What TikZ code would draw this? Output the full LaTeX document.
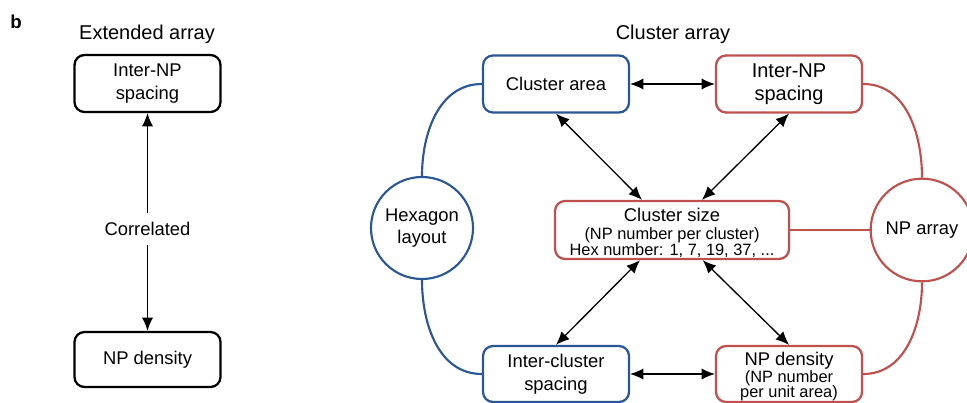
\documentclass[tikz,border=0pt]{standalone}
\usepackage{fontspec}
\setmainfont{Liberation Sans}
\usetikzlibrary{arrows.meta}
\definecolor{cblue}{RGB}{43,87,151}
\definecolor{cred}{RGB}{192,80,77}
\begin{document}
\begin{tikzpicture}[x=0.75pt,y=-0.75pt,
  fmain/.style={font=\fontsize{13.8}{16.9}\selectfont},
  fsmall/.style={font=\fontsize{12.3}{13}\selectfont},
  ftitle/.style={font=\fontsize{15}{18}\selectfont},
  box/.style={draw, rounded corners=7.5pt, line width=1.7pt, minimum width=109.5pt, minimum height=42.75pt, align=center, inner sep=0pt, fmain},
  bbox/.style={box, draw=black},
  blbox/.style={box, draw=cblue},
  rbox/.style={box, draw=cred},
  circ/.style={draw, circle, line width=1.6pt, align=center, inner sep=0pt, fmain},
  arr/.style={{Latex[length=10pt,width=8.5pt]}-{Latex[length=10pt,width=8.5pt]}, line width=1pt},
  sarr/.style={-{Latex[length=10pt,width=8.5pt]}, line width=1pt},
  link/.style={line width=1.6pt}]
\useasboundingbox (0,0) rectangle (967,403);
\clip (0,0) rectangle (967,403);
% titles
\node[font=\fontsize{14}{16}\selectfont\bfseries] (b) at (16,22) {b};
\node[ftitle] (t1) at (147,34) {Extended array};
\node[ftitle] (t2) at (673,34) {Cluster array};
% left panel
\node[bbox] (L1) at (147.5,83.5) {Inter-NP\\spacing};
\node[bbox, minimum height=41.25pt] (L2) at (147.5,359.5) {NP density};
\node[fmain, inner sep=0pt, minimum height=24pt] (cor) at (147.5,229) {Correlated};
\draw[sarr] (cor) -- (L1);
\draw[sarr] (cor) -- (L2);
% right panel boxes
\node[blbox] (CA) at (556,84) {Cluster area};
\node[rbox, font=\fontsize{15}{17.25}\selectfont] (IN) at (789,84) {Inter-NP\\spacing};
\node[rbox, minimum width=175.5pt, minimum height=43.5pt] (CS) at (672,230) {};
\node[blbox, minimum height=42pt] (IC) at (556,374) {Inter-cluster\\spacing};
\node[rbox, minimum height=42pt] (ND) at (789,374) {};
\node[circ, draw=cblue, minimum size=76.5pt] (HX) at (422,228) {Hexagon\\layout};
\node[circ, draw=cred, minimum size=77pt] (NA) at (922,230) {NP array};
% texts in boxes
\node[fmain, anchor=base, inner sep=0pt] (cs1) at (672,221) {Cluster size};
\node[fsmall, anchor=base, inner sep=0pt] (cs2) at (672,239) {(NP number per cluster)};
\node[fsmall, anchor=base, inner sep=0pt] (cs3) at (672,255) {Hex number: 1, 7, 19, 37, ...};
\node[fmain, anchor=base, inner sep=0pt] (nd1) at (789,365) {NP density};
\node[fsmall, anchor=base, inner sep=0pt] (nd2) at (789,382) {(NP number};
\node[fsmall, anchor=base, inner sep=0pt] (nd3) at (789,397) {per unit area)};
% arrows
\draw[arr] (CA) -- (IN);
\draw[arr] (CA.south) -- ([xshift=-22.5pt]CS.north);
\draw[arr] (IN.south) -- ([xshift=22.5pt]CS.north);
\draw[arr] ([xshift=-24pt]CS.south) -- (IC.north);
\draw[arr] ([xshift=23pt]CS.south) -- (ND.north);
\draw[arr] (IC) -- (ND);
% links
\draw[link, cblue] (CA.west) to[out=180,in=90] (HX.north);
\draw[link, cblue] (HX.south) to[out=-90,in=180] (IC.west);
\draw[link, cred] (IN.east) to[out=0,in=90] (NA.north);
\draw[link, cred] (NA.south) to[out=-90,in=0] (ND.east);
\draw[link, cred] (CS.east) -- (NA.west);
\end{tikzpicture}
\end{document}
